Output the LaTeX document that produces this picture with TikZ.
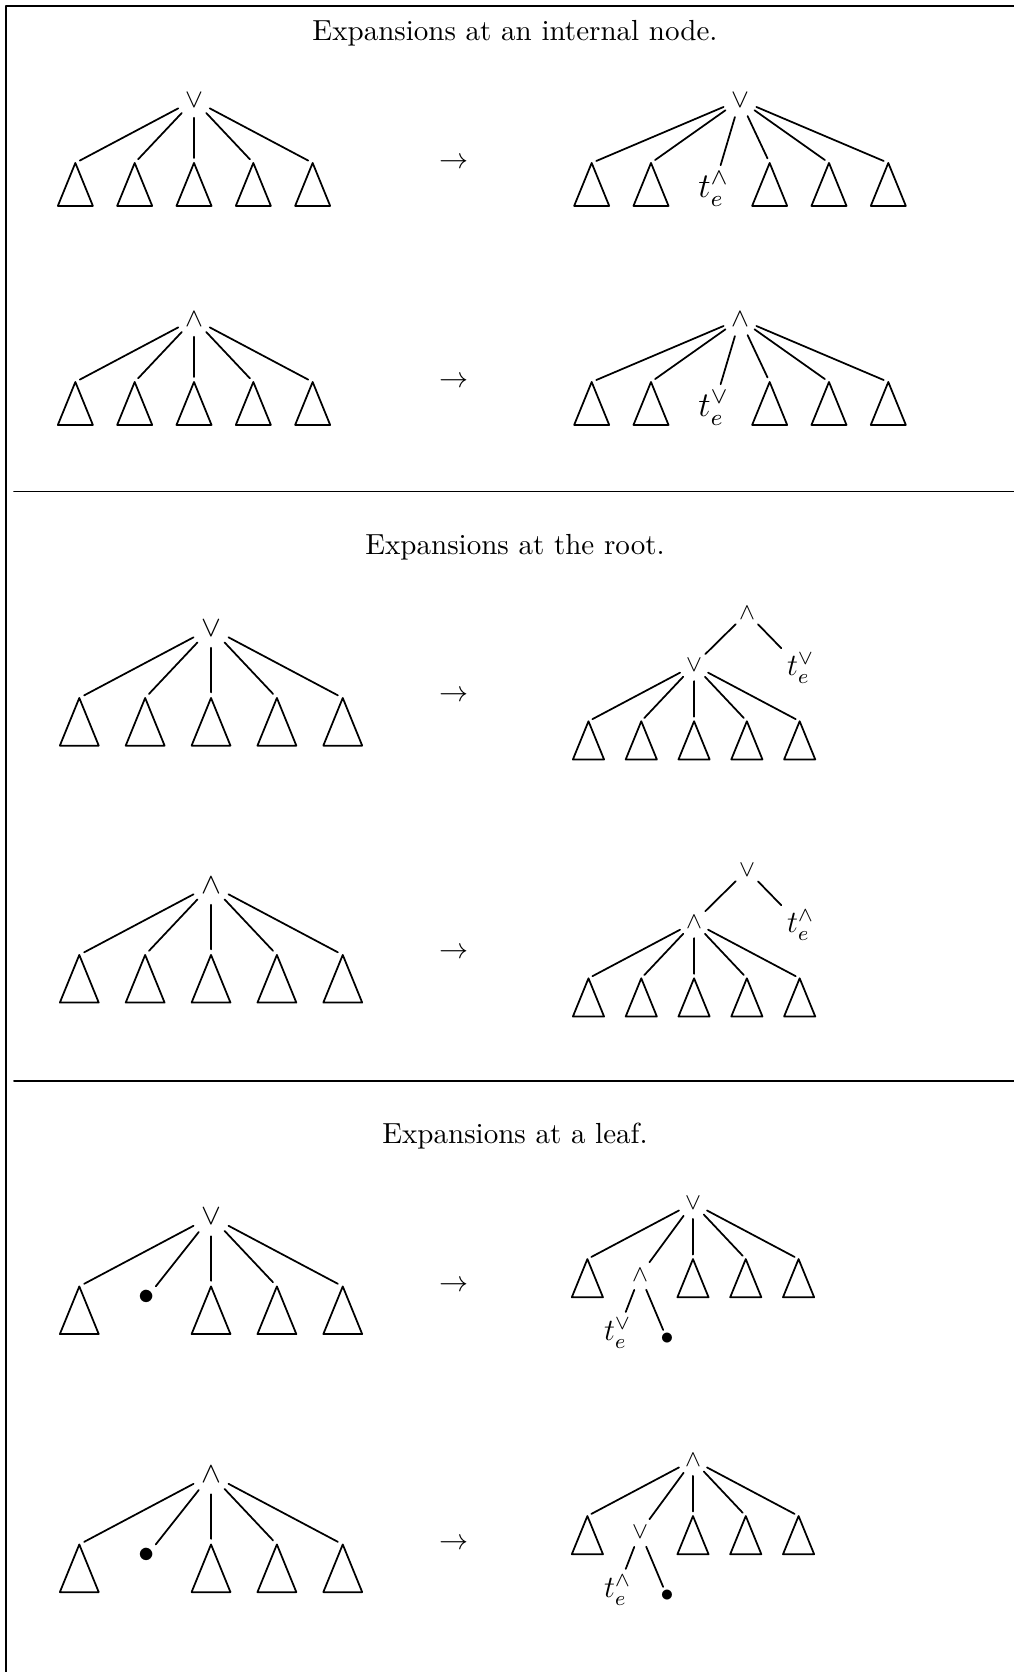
\documentclass[tikz,border=0pt]{standalone}
\usetikzlibrary{positioning}
\tikzset{
  op/.style={circle,inner sep=0pt,minimum size=0.41cm,font=\small},
  tip/.style={circle,inner sep=0pt,minimum size=0.1cm},
  lab/.style={inner sep=2pt,font=\large},
  dot/.style={inner sep=1pt},
  subtree/.pic={\draw (0,0)--(-0.212,-0.52)--(0.212,-0.52)--cycle;}
}
\begin{document}
\begin{tikzpicture}[line join=round,line cap=round,line width=0.6pt]
\useasboundingbox (0,0) rectangle (12.272,-20.236);
\draw (0.073,-20.236)--(0.073,-0.073)--(12.272,-0.073);
\draw (0.169,-5.949)--(12.272,-5.949);
\draw (0.169,-13.083)--(12.272,-13.083);
\node (h1) at (6.233,-0.4) {Expansions at an internal node.};
\node (h2) at (6.233,-6.621) {Expansions at the root.};
\node (h3) at (6.233,-13.75) {Expansions at a leaf.};
\foreach \n/\y in {1/-1.976,2/-4.627,3/-8.427,4/-11.538,5/-15.568,6/-18.691}
  \node (arr\n) at (5.5,\y) {$\rightarrow$};
% internal node
\foreach \t/\y/\s in {a/-1.21/\vee,b/-3.861/\wedge}{
  \begin{scope}[shift={(2.348,\y)}]
    \node[op] (\t) at (0,0) {$\s$};
    \foreach \i/\x in {1/-1.436,2/-0.718,3/0,4/0.718,5/1.436}{
      \node[tip] (\t\i) at (\x,-0.762) {};
      \pic at (\t\i) {subtree};
      \draw (\t) -- (\t\i);
    }
  \end{scope}
}
\foreach \t/\y/\s/\u in {c/-1.21/\vee/\wedge,d/-3.861/\wedge/\vee}{
  \begin{scope}[shift={(8.956,\y)}]
    \node[op] (\t) at (0,0) {$\s$};
    \foreach \i/\x in {1/-1.795,2/-1.077,4/0.359,5/1.077,6/1.795}{
      \node[tip] (\t\i) at (\x,-0.762) {};
      \pic at (\t\i) {subtree};
      \draw (\t) -- (\t\i);
    }
    \node[lab] (\t3) at (-0.32,-1.077) {$t_e^{\u}$};
    \draw (\t) -- (\t3);
  \end{scope}
}
% root
\foreach \t/\y/\s in {e/-7.601/\vee,f/-10.711/\wedge}{
  \begin{scope}[shift={(2.554,\y)},scale=1.11,transform shape]
    \node[op] (\t) at (0,0) {$\s$};
    \foreach \i/\x in {1/-1.436,2/-0.718,3/0,4/0.718,5/1.436}{
      \node[tip] (\t\i) at (\x,-0.762) {};
      \pic at (\t\i) {subtree};
      \draw (\t) -- (\t\i);
    }
  \end{scope}
}
\foreach \t/\y/\s/\u in {g/-7.419/\wedge/\vee,h/-10.53/\vee/\wedge}{
  \begin{scope}[shift={(9.041,\y)},scale=0.89,transform shape]
    \node[op] (\t) at (0,0) {$\s$};
    \node[op] (\t0) at (-0.72,-0.71) {$\u$};
    \node[lab] (\t t) at (0.73,-0.75) {$t_e^{\u}$};
    \draw (\t) -- (\t0);
    \draw (\t) -- (\t t);
    \foreach \i/\x in {1/-2.156,2/-1.438,3/-0.72,4/-0.002,5/0.716}{
      \node[tip] (\t\i) at (\x,-1.472) {};
      \pic at (\t\i) {subtree};
      \draw (\t0) -- (\t\i);
    }
  \end{scope}
}
% leaf
\foreach \t/\y/\s in {k/-14.723/\vee,l/-17.846/\wedge}{
  \begin{scope}[shift={(2.554,\y)},scale=1.11,transform shape]
    \node[op] (\t) at (0,0) {$\s$};
    \foreach \i/\x in {1/-1.436,3/0,4/0.718,5/1.436}{
      \node[tip] (\t\i) at (\x,-0.762) {};
      \pic at (\t\i) {subtree};
      \draw (\t) -- (\t\i);
    }
    \node[dot] (\t2) at (-0.7,-0.885) {$\bullet$};
    \draw (\t) -- (\t2);
  \end{scope}
}
\foreach \t/\y/\s/\u in {m/-14.56/\vee/\wedge,n/-17.67/\wedge/\vee}{
  \begin{scope}[shift={(8.387,\y)},scale=0.89,transform shape]
    \node[op] (\t) at (0,0) {$\s$};
    \foreach \i/\x in {1/-1.436,3/0,4/0.718,5/1.436}{
      \node[tip] (\t\i) at (\x,-0.762) {};
      \pic at (\t\i) {subtree};
      \draw (\t) -- (\t\i);
    }
    \node[op] (\t2) at (-0.72,-0.98) {$\u$};
    \node[lab] (\t t) at (-1.026,-1.769) {$t_e^{\s}$};
    \node[dot] (\t d) at (-0.353,-1.85) {$\bullet$};
    \draw (\t) -- (\t2);
    \draw (\t2) -- (\t t);
    \draw (\t2) -- (\t d);
  \end{scope}
}
\end{tikzpicture}
\end{document}
